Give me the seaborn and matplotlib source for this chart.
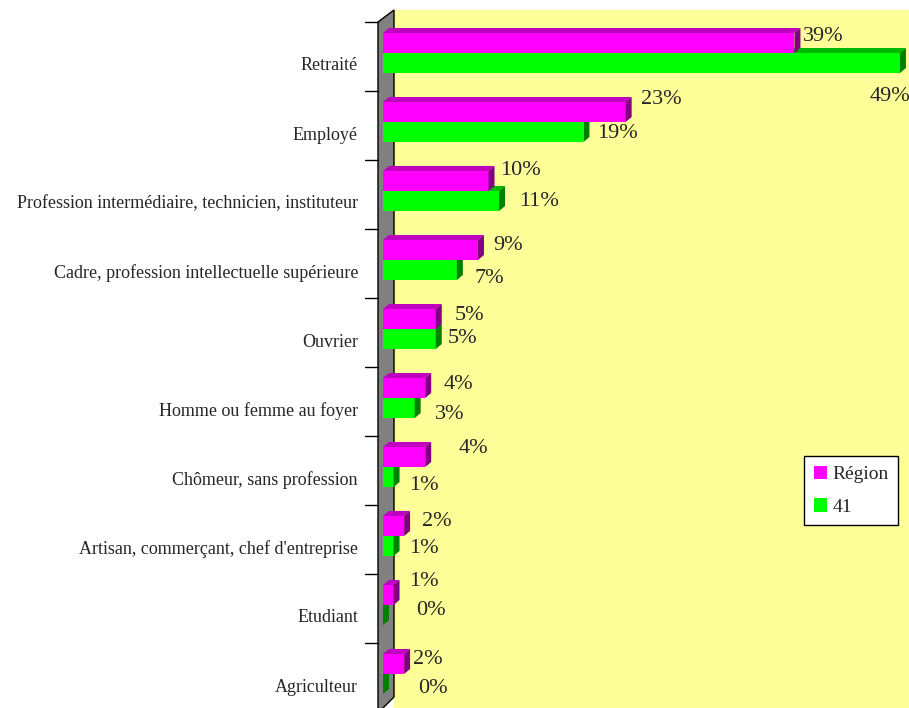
import matplotlib
matplotlib.use("Agg")
import matplotlib.pyplot as plt
from matplotlib.patches import Polygon, Patch
from matplotlib.lines import Line2D
import pandas as pd
import seaborn as sns

# Données (%)
categories = [
    "Retraité",
    "Employé",
    "Profession intermédiaire, technicien, instituteur",
    "Cadre, profession intellectuelle supérieure",
    "Ouvrier",
    "Homme ou femme au foyer",
    "Chômeur, sans profession",
    "Artisan, commerçant, chef d'entreprise",
    "Etudiant",
    "Agriculteur",
]
series = ["Région", "41"]
region = [39, 23, 10, 9, 5, 4, 4, 2, 1, 2]
dept41 = [49, 19, 11, 7, 5, 3, 1, 1, 0, 0]

# petits décalages des étiquettes (pixels, x vers la droite, y vers le bas)
off_region = [(8, -6), (15, -12), (12, -10), (15, -4), (19, -3),
              (18, -3), (33, -8), (18, -4), (16, -13), (9, -4)]
off_41 = [(-30, 33), (14, 1), (20, 0), (18, 8), (12, -1),
          (20, 6), (16, 8), (16, 2), (33, -5), (35, 4)]

COULEURS = {"Région": "#FF00FF", "41": "#00FF00"}
TOPS = {"Région": "#C000C0", "41": "#00B800"}
COTES = {"Région": "#800080", "41": "#008000"}

W, H = 909, 708
X0 = 383          # pixel du zéro
PX_PCT = 10.55    # pixels par point de %
Y0 = 53           # pixel du centre de la 1re catégorie
PX_CAT = 69       # pixels par catégorie
DX, DY = 6, 5     # profondeur 3D en pixels

sns.set_style("white")
plt.rcParams["font.family"] = ["Liberation Serif", "DejaVu Serif"]


def fx(px):
    return px / W


def fy(py):
    return 1 - py / H


df = pd.DataFrame({
    "Catégorie": categories * 2,
    "Série": [series[0]] * len(categories) + [series[1]] * len(categories),
    "Valeur": region + dept41,
})

fig = plt.figure(figsize=(W / 100, H / 100), dpi=100)
fig.patch.set_facecolor("white")

# fond jaune et paroi grise
fig.add_artist(Polygon([(fx(394), fy(10)), (fx(W + 5), fy(10)), (fx(W + 5), fy(H + 5)),
                        (fx(394), fy(H + 5))], closed=True, transform=fig.transFigure,
                       facecolor="#FFFF99", edgecolor="none", zorder=-3))
fig.add_artist(Polygon([(fx(378), fy(22)), (fx(394), fy(10)), (fx(394), fy(697)),
                        (fx(378), fy(713))], closed=True, transform=fig.transFigure,
                       facecolor="#808080", edgecolor="black", lw=1, zorder=-2))

ax = fig.add_axes([fx(378), 0, 1 - fx(378), 1])
sns.barplot(data=df, y="Catégorie", x="Valeur", hue="Série", order=categories,
            hue_order=series, palette=COULEURS, orient="y", width=0.58,
            saturation=1, legend=False, ax=ax)
ax.set_xlim((378 - X0) / PX_PCT, (W - X0) / PX_PCT)
ax.set_ylim((H - Y0) / PX_CAT, -Y0 / PX_CAT)
ax.axis("off")

ddx = DX / PX_PCT
ddy = DY / PX_CAT
for nom, cont, offs in zip(series, ax.containers, [off_region, off_41]):
    z = 3 if nom == "Région" else 2
    for bar, (ox, oy) in zip(cont, offs):
        bar.set_edgecolor("none")
        bar.set_zorder(z)
        x0, w = bar.get_x(), bar.get_width()
        y0, h = bar.get_y(), bar.get_height()
        ax.add_patch(Polygon([(x0, y0), (x0 + w, y0), (x0 + w + ddx, y0 - ddy), (x0 + ddx, y0 - ddy)],
                             closed=True, facecolor=TOPS[nom], edgecolor="none", zorder=z))
        ax.add_patch(Polygon([(x0 + w, y0), (x0 + w, y0 + h), (x0 + w + ddx, y0 + h - ddy),
                              (x0 + w + ddx, y0 - ddy)],
                             closed=True, facecolor=COTES[nom], edgecolor="none", zorder=z))
        ax.annotate(f"{w:.0f}%", xy=(x0 + w, y0 + h / 2), xytext=(ox, -oy),
                    textcoords="offset pixels", ha="left", va="center",
                    fontsize=16, annotation_clip=False, zorder=5)

# étiquettes et graduations de l'axe des catégories
for i, cat in enumerate(categories):
    c = Y0 + PX_CAT * i
    fig.text(fx(358), fy(c + 13), cat, ha="right", va="center", fontsize=13)
    fig.add_artist(Line2D([fx(365), fx(378)], [fy(c - 31), fy(c - 31)],
                          transform=fig.transFigure, color="black", lw=1))

handles = [Patch(facecolor=COULEURS[s], edgecolor="none") for s in series]
leg = fig.legend(handles, series, loc="upper left", bbox_to_anchor=(fx(804), fy(456)),
                 borderaxespad=0, frameon=True, fancybox=False, edgecolor="black",
                 framealpha=1, handlelength=0.7, handleheight=0.7, handletextpad=0.25,
                 labelspacing=0.75, borderpad=0.5, fontsize=14)
leg.get_frame().set_linewidth(1)

fig.savefig("out.png", dpi=100)
